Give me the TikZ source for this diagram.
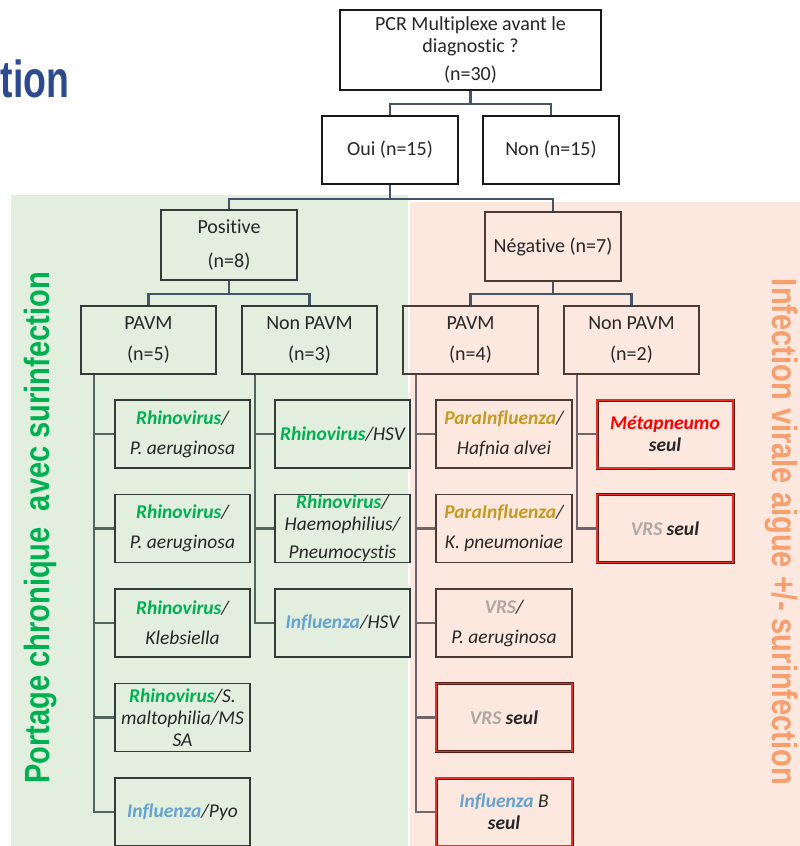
\documentclass[tikz,border=0pt]{standalone}
\usepackage{fontspec}
\setmainfont{Carlito}[Ligatures=NoCommon]
\newfontfamily\narrowfont{Liberation Sans}[FakeStretch=0.83]
\newfontfamily\titlefont{Liberation Sans}[FakeStretch=0.72]
\usetikzlibrary{calc}
\definecolor{bggreen}{HTML}{E2EFDF}
\definecolor{bgpeach}{HTML}{FCE8DE}
\definecolor{labgreen}{HTML}{00B050}
\definecolor{laborange}{HTML}{F79F6E}
\definecolor{titleblue}{HTML}{2E4A8F}
\definecolor{rhino}{HTML}{00B050}
\definecolor{influ}{HTML}{65A2CF}
\definecolor{para}{HTML}{C49A22}
\definecolor{vrs}{HTML}{AFA7A3}
\definecolor{meta}{HTML}{FF0000}
\definecolor{txt}{HTML}{262626}
\definecolor{connA}{HTML}{44546A}
\definecolor{gconncol}{HTML}{52665F}
\definecolor{pconncol}{HTML}{716569}
\definecolor{gborder}{HTML}{2F3B36}
\definecolor{pborder}{HTML}{4B3B36}
\definecolor{reddark}{HTML}{5A1A14}
\definecolor{redbright}{HTML}{E8302A}
\begin{document}
\begin{tikzpicture}[x=1pt,y=-1pt,
  box/.style={draw, rectangle, inner sep=0pt, align=center, line width=1.3pt,
    text=txt, font=\fontsize{20}{22}\selectfont},
  topbox/.style={box, draw=black!90, fill=white},
  gbox/.style={box, draw=gborder},
  pbox/.style={box, draw=pborder},
  midsize/.style={minimum width=135pt, minimum height=68pt},
  leaf/.style={minimum width=135pt, minimum height=68pt,
    font=\fontsize{19.5}{22}\selectfont\itshape},
  redbox/.style={box, leaf, draw=reddark, double=redbright, double distance=1.2pt, line width=0.9pt},
  conn/.style={draw=connA, line width=2.2pt},
  gconn/.style={draw=gconncol, line width=2.2pt},
  pconn/.style={draw=pconncol, line width=2.2pt}]
\clip (0,0) rectangle (800,846);
\useasboundingbox (0,0) rectangle (800,846);
\fill[white] (0,0) rectangle (800,846);
\fill[bggreen] (11,195) rectangle (408,846);
\fill[bgpeach] (409.5,202) rectangle (800,846);

% title fragment
\node[anchor=base west, inner sep=0pt, text=titleblue,
  font=\titlefont\bfseries\fontsize{52}{60}\selectfont] (title) at (0.5,97.7) {tion};

% side labels
\node[rotate=90, anchor=base, inner sep=0pt, text=labgreen,
  font=\narrowfont\bfseries\fontsize{35}{40}\selectfont] (lg) at (49,528) {Portage chronique \ avec surinfection};
\node[rotate=-90, anchor=base, inner sep=0pt, text=laborange,
  font=\narrowfont\bfseries\fontsize{35}{40}\selectfont] (lo) at (772,532) {Infection virale aigue +/- surinfection};

% top level
\node[topbox, minimum width=261pt, minimum height=80pt] (pcr) at (470.5,50)
  {PCR Multiplexe avant le\\ diagnostic ?\\[6pt] (n=30)};
\node[topbox, minimum width=136pt, minimum height=68pt] (oui) at (390,150) {Oui (n=15)};
\node[topbox, minimum width=136pt, minimum height=68pt] (non) at (551,150) {Non (n=15)};

\node[gbox, minimum width=136pt, minimum height=70pt] (pos) at (229,245) {Positive\\[12pt] (n=8)};
\node[pbox, minimum width=136pt, minimum height=69pt] (neg) at (553,246.5) {Négative (n=7)};

\node[gbox, midsize] (pavmL) at (148.5,340) {PAVM\\[9pt] (n=5)};
\node[gbox, midsize] (npavmL) at (309.5,340) {Non PAVM\\[9pt] (n=3)};
\node[pbox, midsize] (pavmR) at (470.5,340) {PAVM\\[9pt] (n=4)};
\node[pbox, midsize] (npavmR) at (631.5,340) {Non PAVM\\[9pt] (n=2)};

% left PAVM leaves
\node[gbox, leaf] (l1) at (182.5,434) {\textbf{\textcolor{rhino}{Rhinovirus}}/\\[8pt] P. aeruginosa};
\node[gbox, leaf] (l2) at (182.5,528.5) {\textbf{\textcolor{rhino}{Rhinovirus}}/\\[8pt] P. aeruginosa};
\node[gbox, leaf] (l3) at (182.5,623) {\textbf{\textcolor{rhino}{Rhinovirus}}/\\[8pt] Klebsiella};
\node[gbox, leaf] (l4) at (182.5,717.5) {\textbf{\textcolor{rhino}{Rhinovirus}}/S.\\ maltophilia/MS\\ SA};
\node[gbox, leaf] (l5) at (182.5,812) {\textbf{\textcolor{influ}{Influenza}}/Pyo};

% left non PAVM leaves
\node[gbox, leaf] (m1) at (342.5,434) {\textbf{\textcolor{rhino}{Rhinovirus}}/HSV};
\node[gbox, leaf] (m2) at (342.5,528.5) {\textbf{\textcolor{rhino}{Rhinovirus}}/\\ Haemophilius/\\[6pt] Pneumocystis};
\node[gbox, leaf] (m3) at (342.5,623) {\textbf{\textcolor{influ}{Influenza}}/HSV};

% right PAVM leaves
\node[pbox, leaf, minimum width=136pt] (r1) at (504,434) {\textbf{\textcolor{para}{ParaInfluenza}}/\\[8pt] Hafnia alvei};
\node[pbox, leaf, minimum width=136pt] (r2) at (504,528.5) {\textbf{\textcolor{para}{ParaInfluenza}}/\\[8pt] K. pneumoniae};
\node[pbox, leaf, minimum width=136pt] (r3) at (504,623) {\textbf{\textcolor{vrs}{VRS}}/\\[8pt] P. aeruginosa};
\node[redbox, minimum width=136pt] (r4) at (504,717.5) {\textbf{\textcolor{vrs}{VRS} seul}};
\node[redbox, minimum width=136pt] (r5) at (504,812) {\textbf{\textcolor{influ}{Influenza}} B\\ \textbf{seul}};

% right non PAVM leaves
\node[redbox, minimum width=136pt] (s1) at (665,434) {\textbf{\textcolor{meta}{Métapneumo}}\\ \textbf{seul}};
\node[redbox, minimum width=136pt] (s2) at (665,528.5) {\textbf{\textcolor{vrs}{VRS} seul}};

% connectors
\draw[conn] (pcr.south) -- ++(0,13) -| (oui.north);
\draw[conn] (pcr.south) -- ++(0,13) -| (non.north);
\draw[conn] (oui.south) -- ++(0,14) -| (pos.north);
\draw[conn] (oui.south) -- ++(0,14) -| (neg.north);
\draw[conn] (pos.south) -- ++(0,13) -| (pavmL.north);
\draw[conn] (pos.south) -- ++(0,13) -| (npavmL.north);
\draw[conn] (neg.south) -- ++(0,12) -| (pavmR.north);
\draw[conn] (neg.south) -- ++(0,12) -| (npavmR.north);

\coordinate (sA) at ($(pavmL.south west)+(14,0)$);
\coordinate (sB) at ($(npavmL.south west)+(14,0)$);
\coordinate (sC) at ($(pavmR.south west)+(14,0)$);
\coordinate (sD) at ($(npavmR.south west)+(14,0)$);
\foreach \n in {l1,l2,l3,l4,l5} \draw[gconn] (sA) |- (\n.west);
\foreach \n in {m1,m2,m3} \draw[gconn] (sB) |- (\n.west);
\foreach \n in {r1,r2,r3,r4,r5} \draw[pconn] (sC) |- (\n.west);
\foreach \n in {s1,s2} \draw[pconn] (sD) |- (\n.west);
\end{tikzpicture}
\end{document}
